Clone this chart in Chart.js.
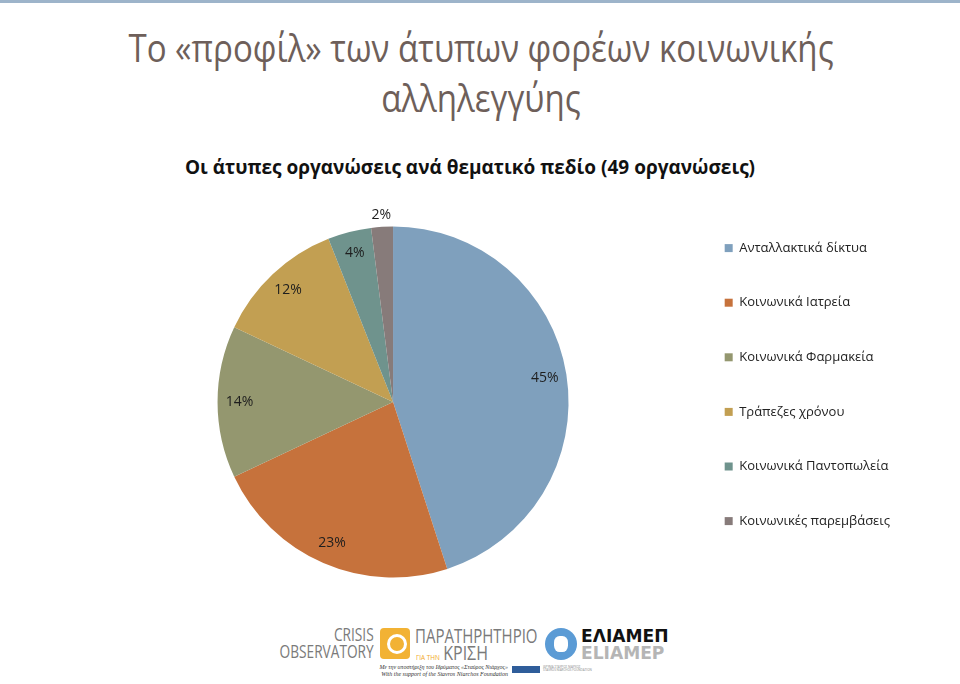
<!DOCTYPE html>
<html lang="el">
<head>
<meta charset="utf-8">
<script src="https://cdn.jsdelivr.net/npm/chart.js@4.4.1/dist/chart.umd.min.js"></script>
<style>
    html, body { margin: 0; padding: 0; background: #fff; }
    body { width: 960px; height: 684px; position: relative; overflow: hidden; font-family: "Open Sans", sans-serif; }
    .topline { position: absolute; left: 0; top: 0; width: 960px; height: 3px; background: #9db4ca; }
    .slide-title { position: absolute; left: 0; top: 22px; width: 962px; text-align: center;
        font-family: "Open Sans", sans-serif; font-size: 38px; line-height: 50px;
        color: #6e5f5a; transform: scaleX(0.87); transform-origin: 481px 0; }
    .chart-title { position: absolute; left: 0; top: 154px; width: 940px; text-align: center;
        font-family: "Open Sans", sans-serif; font-size: 19px; font-weight: bold; line-height: 26px; color: #111; }
    #chartBox { position: absolute; left: 0; top: 140px; width: 940px; height: 470px; }
    .logo { position: absolute; white-space: nowrap; }
    .gray { font-family: "Open Sans", sans-serif; color: #7a7a7a; }
</style>
</head>
<body>
<div class="topline"></div>
<div class="slide-title">Το «προφίλ» των άτυπων φορέων κοινωνικής<br>αλληλεγγύης</div>
<div class="chart-title">Οι άτυπες οργανώσεις ανά θεματικό πεδίο (49 οργανώσεις)</div>
<div id="chartBox"><canvas id="pieChart"></canvas></div>

<!-- footer logos, approximated with text and shapes -->
<div class="logo gray" style="right:586px;top:626px;text-align:right;font-size:19px;line-height:17px;transform:scaleX(0.72);transform-origin:right top;">CRISIS<br>OBSERVATORY</div>
<div class="logo" style="left:380px;top:628px;width:30px;height:31px;background:#f2b234;border-radius:4px;"></div>
<div class="logo" style="left:387px;top:634px;width:14px;height:14px;border:3px solid #fff;border-radius:50%;"></div>
<div class="logo gray" style="left:415px;top:625px;font-size:20px;line-height:22px;transform:scaleX(0.75);transform-origin:left top;">ΠΑΡΑΤΗΡΗΤΗΡΙΟ</div>
<div class="logo gray" style="left:416px;top:643px;line-height:20px;transform:scaleX(0.8);transform-origin:left top;"><span style="font-size:8px;color:#f2a81e;">ΓΙΑ ΤΗΝ</span> <span style="font-size:20px;">ΚΡΙΣΗ</span></div>
<div class="logo" style="left:545px;top:628px;width:32px;height:32px;border-radius:50%;background:#5b9bd5;"></div>
<div class="logo" style="left:554px;top:636px;width:14px;height:16px;border-radius:40%;background:#fff;"></div>
<div class="logo" style="left:581px;top:625px;font-family:'DejaVu Sans',sans-serif;font-weight:bold;font-size:18px;line-height:21px;color:#111;transform:scaleX(0.95);transform-origin:left top;">ΕΛΙΑΜΕΠ</div>
<div class="logo" style="left:581px;top:642px;font-family:'DejaVu Sans',sans-serif;font-weight:bold;font-size:18px;line-height:21px;color:#b5b5b5;transform:scaleX(0.95);transform-origin:left top;">ELIAMEP</div>
<div class="logo" style="right:452px;top:664px;font-family:'Liberation Serif',serif;font-style:italic;font-size:6px;line-height:7px;color:#333;text-align:right;">Με την υποστήριξη του Ιδρύματος «Σταύρος Νιάρχος»<br>With the support of the Stavros Niarchos Foundation</div>
<div class="logo" style="left:512px;top:666px;width:28px;height:7px;background:#2f5d9a;"></div>
<div class="logo" style="left:543px;top:666px;font-size:3px;line-height:3px;color:#888;">ΙΔΡΥΜΑ ΣΤΑΥΡΟΣ ΝΙΑΡΧΟΣ<br>STAVROS NIARCHOS FOUNDATION</div>

<script>
// informal organisations by thematic field (% of 49)
const categories = ['Ανταλλακτικά δίκτυα', 'Κοινωνικά Ιατρεία', 'Κοινωνικά Φαρμακεία',
    'Τράπεζες χρόνου', 'Κοινωνικά Παντοπωλεία', 'Κοινωνικές παρεμβάσεις'];
const shares = [45, 23, 14, 12, 4, 2];
const sliceColors = ['#7fa0bd', '#c6723c', '#94976f', '#c29f52', '#6f938d', '#877b7a'];

// percentage labels placed on each arc
const sliceLabels = {
    id: 'sliceLabels',
    afterDatasetsDraw(chart) {
        const ctx = chart.ctx;
        const data = chart.data.datasets[0].data;
        const total = data.reduce((a, b) => a + b, 0);
        ctx.save();
        ctx.font = '14px "Open Sans", sans-serif';
        ctx.fillStyle = '#1e1e1e';
        ctx.textAlign = 'center';
        ctx.textBaseline = 'middle';
        chart.getDatasetMeta(0).data.forEach((arc, i) => {
            const pct = data[i] / total;
            const mid = (arc.startAngle + arc.endAngle) / 2;
            const r = pct < 0.03 ? arc.outerRadius + 12 : arc.outerRadius * 0.875;
            ctx.fillText(Math.round(pct * 100) + '%', arc.x + Math.cos(mid) * r, arc.y + Math.sin(mid) * r);
        });
        ctx.restore();
    }
};

window.onload = function () {
    const ctx = document.getElementById('pieChart').getContext('2d');
    new Chart(ctx, {
        type: 'pie',
        data: {
            labels: categories,
            datasets: [{
                data: shares,
                backgroundColor: sliceColors,
                borderWidth: 0,
                radius: 175.5
            }]
        },
        options: {
            responsive: true,
            maintainAspectRatio: false,
            animation: false,
            layout: { padding: { left: 103, right: 40, top: 60, bottom: 6 } },
            plugins: {
                legend: {
                    position: 'right',
                    align: 'start',
                    labels: {
                        color: '#222',
                        boxWidth: 8,
                        boxHeight: 8,
                        padding: 41.6,
                        font: { family: '"Open Sans", sans-serif', size: 13 }
                    }
                },
                tooltip: { enabled: false }
            }
        },
        plugins: [sliceLabels]
    });
};
</script>
</body>
</html>
